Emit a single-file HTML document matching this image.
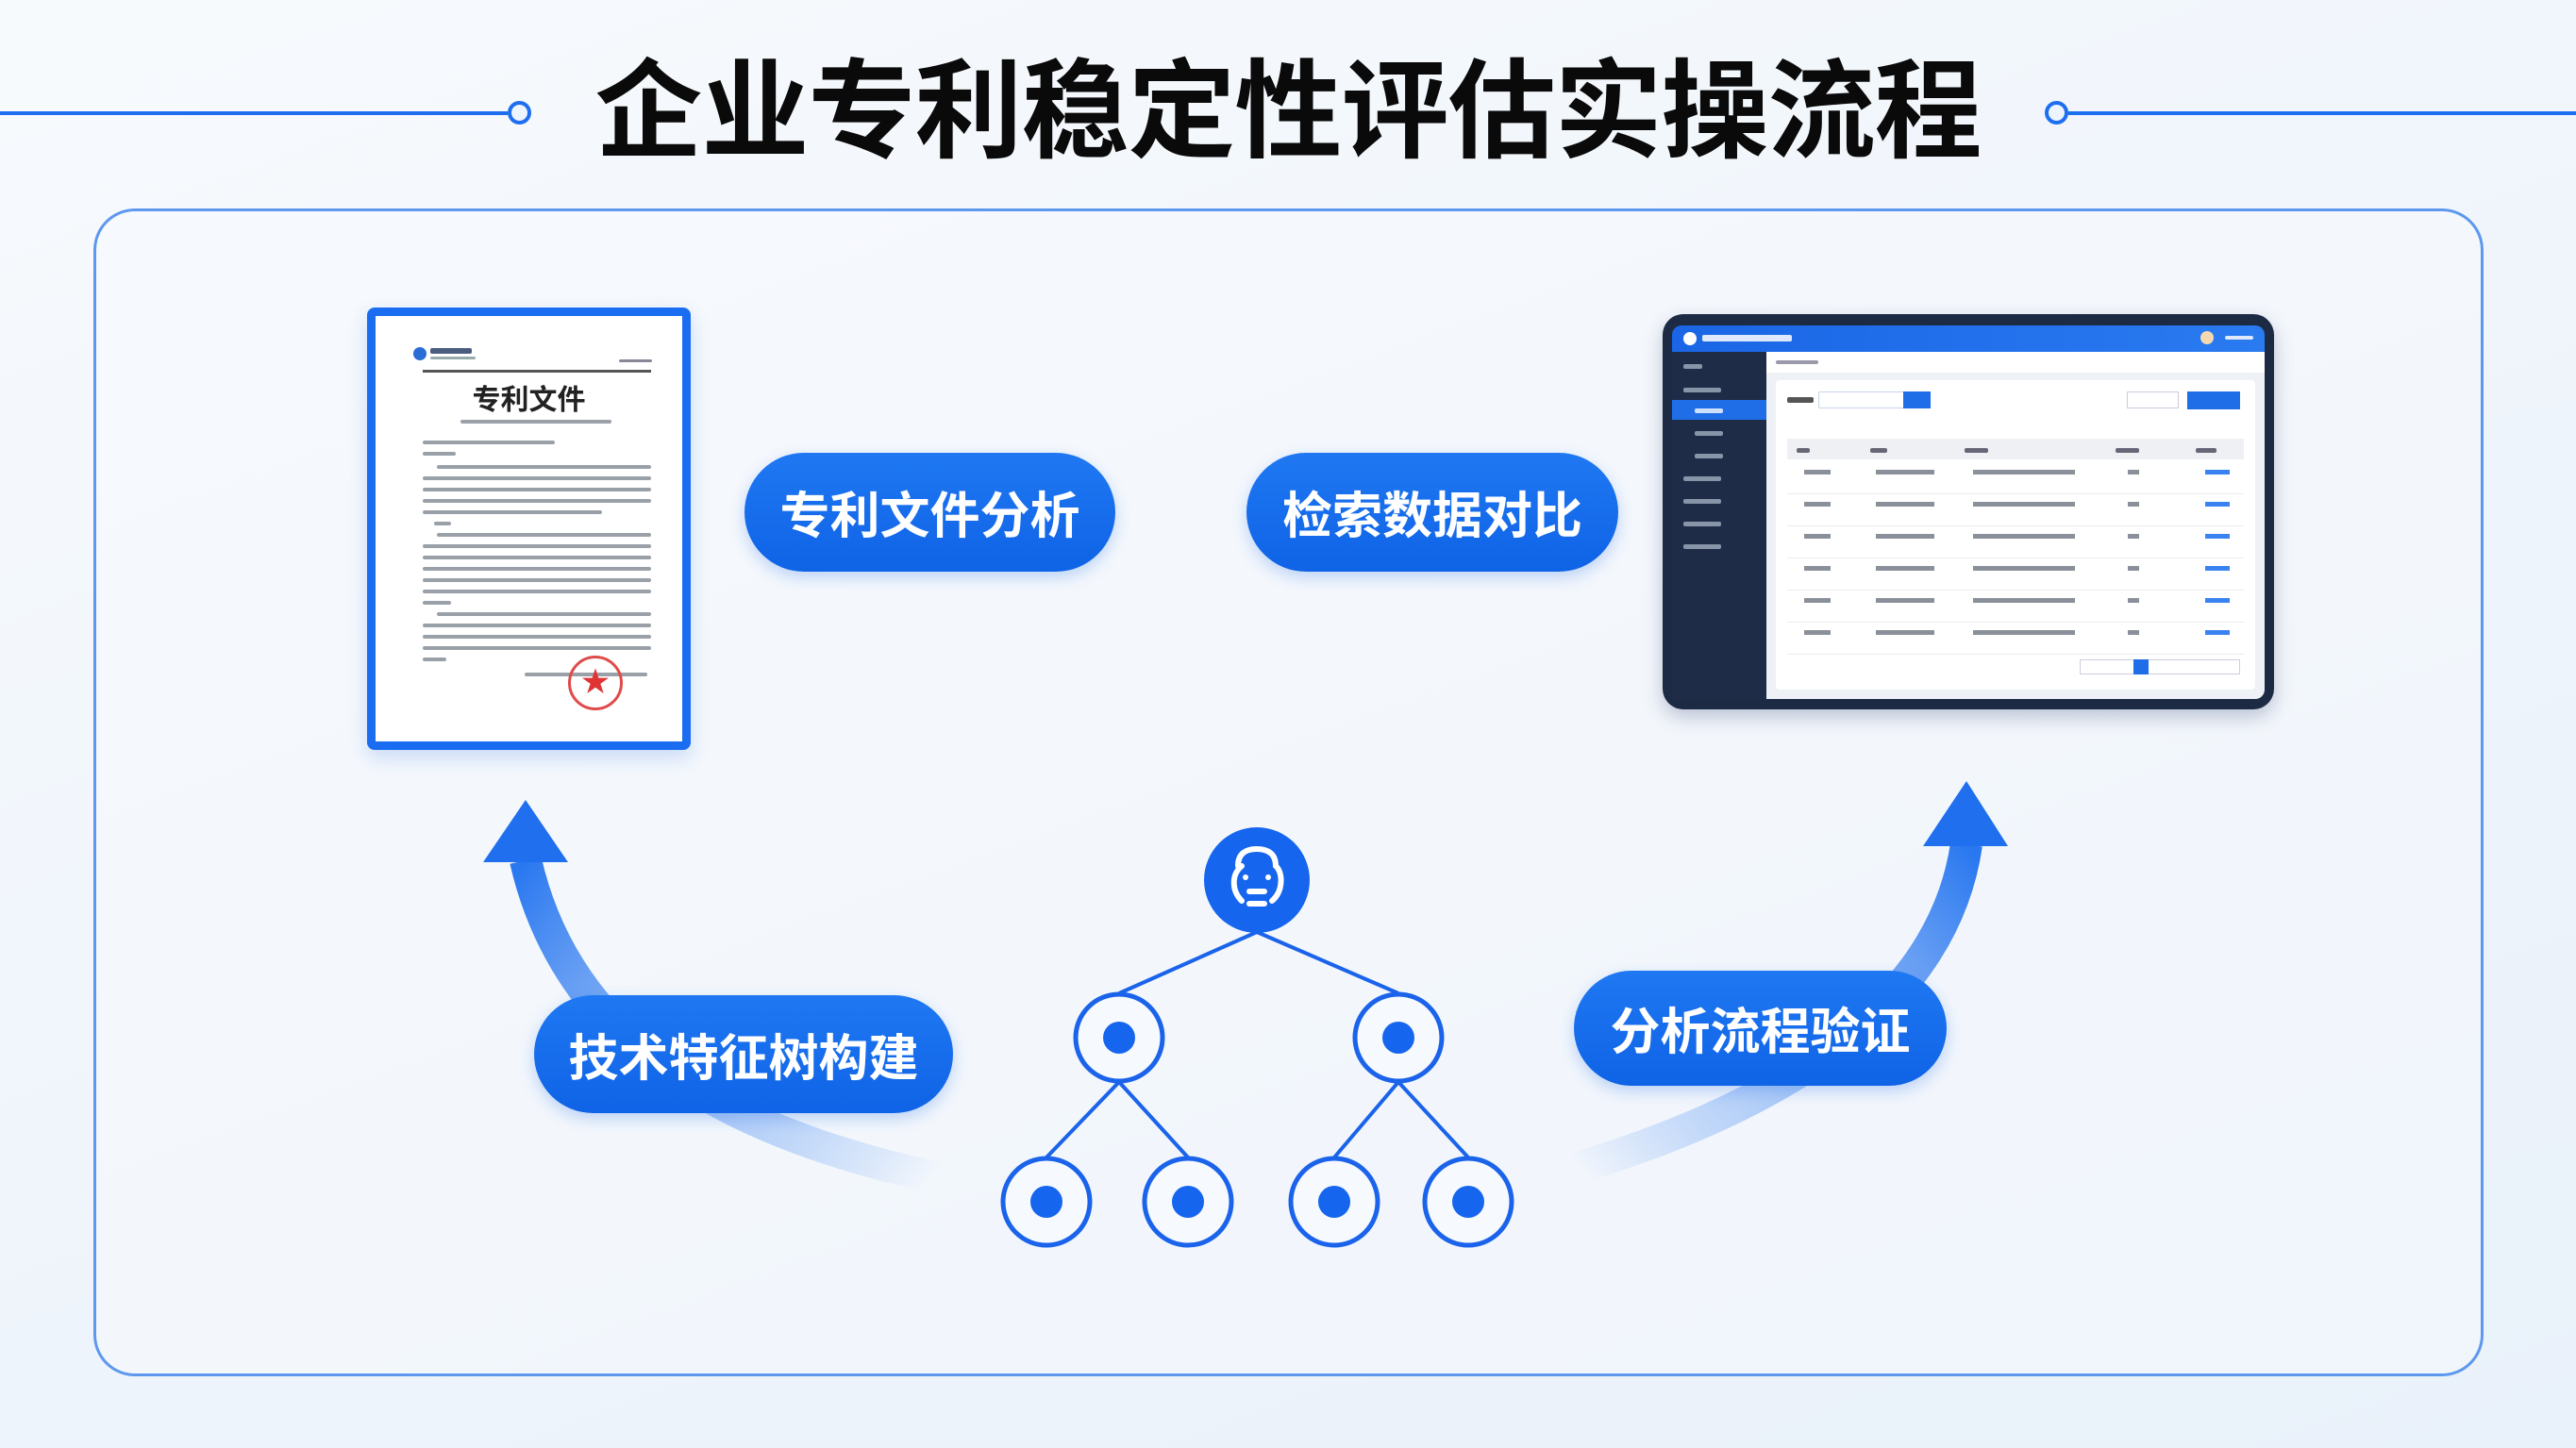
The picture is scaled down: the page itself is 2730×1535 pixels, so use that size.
<!DOCTYPE html>
<html><head><meta charset="utf-8"><style>
*{margin:0;padding:0;box-sizing:border-box}
body{width:2730px;height:1535px;overflow:hidden;position:relative;background:linear-gradient(160deg,#f7fafd 0%,#eef4fb 60%,#e9f1fa 100%);font-family:"Liberation Sans","Noto Sans CJK SC",sans-serif}
.abs{position:absolute}
.title{left:0;width:2730px;top:45px;text-align:center;font-size:114px;font-weight:bold;color:#0a0a0a;letter-spacing:-1px;line-height:150px}
.pill{position:absolute;background:linear-gradient(180deg,#1f78f2,#0f63e6);border-radius:70px;color:#fff;font-weight:bold;font-size:53px;display:flex;align-items:center;justify-content:center;box-shadow:0 6px 16px rgba(20,100,230,.25)}
.bar{position:absolute;height:5px;background:#9aa0a8;border-radius:2px}
.r{position:absolute;height:5px;background:#8a9099}
.rb{position:absolute;height:5px;background:#3a82f0}
</style></head><body>
<div class="abs" style="left:0;top:118px;width:538px;height:4px;background:#1e6ff0"></div>
<div class="abs" style="left:538px;top:107px;width:25px;height:25px;border:4px solid #1e6ff0;border-radius:50%;background:#eef4fd"></div>
<div class="abs" style="left:2167px;top:107px;width:25px;height:25px;border:4px solid #1e6ff0;border-radius:50%;background:#eef4fd"></div>
<div class="abs" style="left:2192px;top:118px;width:538px;height:4px;background:#1e6ff0"></div>
<div class="abs title">企业专利稳定性评估实操流程</div>

<div class="abs" style="left:99px;top:221px;width:2533px;height:1238px;border:3px solid #5d98ee;border-radius:44px;background:rgba(247,250,254,.5)"></div>

<svg class="abs" style="left:0;top:0" width="2730" height="1535">
<defs>
<linearGradient id="g1" x1="990" y1="1245" x2="557" y2="914" gradientUnits="userSpaceOnUse"><stop offset="0" stop-color="#2f7cf0" stop-opacity="0"/><stop offset=".5" stop-color="#6fa4f3" stop-opacity=".6"/><stop offset="1" stop-color="#2a78f0"/></linearGradient>
<linearGradient id="g2" x1="1671" y1="1236" x2="2084" y2="897" gradientUnits="userSpaceOnUse"><stop offset="0" stop-color="#2f7cf0" stop-opacity="0"/><stop offset=".5" stop-color="#6fa4f3" stop-opacity=".6"/><stop offset="1" stop-color="#2a78f0"/></linearGradient>
</defs>
<path d="M1000 1250 C760 1200 600 1100 557 912" stroke="url(#g1)" stroke-width="34" fill="none"/>
<polygon points="557,848 512,914 602,914" fill="#1f6fee"/>
<path d="M1665 1240 C1900 1170 2060 1060 2084 895" stroke="url(#g2)" stroke-width="34" fill="none"/>
<polygon points="2084,828 2038,897 2128,897" fill="#1f6fee"/>
<g stroke="#1a63ea" stroke-width="4" fill="none">
<line x1="1332" y1="988" x2="1186" y2="1053"/><line x1="1332" y1="988" x2="1482" y2="1053"/>
<line x1="1186" y1="1147" x2="1109" y2="1227"/><line x1="1186" y1="1147" x2="1259" y2="1227"/>
<line x1="1482" y1="1147" x2="1414" y2="1227"/><line x1="1482" y1="1147" x2="1556" y2="1227"/>
</g>
<g stroke="#1a63ea" stroke-width="5" fill="#f6f9fe">
<circle cx="1186" cy="1100" r="46"/><circle cx="1482" cy="1100" r="46"/>
<circle cx="1109" cy="1274" r="46"/><circle cx="1259" cy="1274" r="46"/><circle cx="1414" cy="1274" r="46"/><circle cx="1556" cy="1274" r="46"/>
</g>
<g fill="#1565ee">
<circle cx="1186" cy="1100" r="17"/><circle cx="1482" cy="1100" r="17"/>
<circle cx="1109" cy="1274" r="17"/><circle cx="1259" cy="1274" r="17"/><circle cx="1414" cy="1274" r="17"/><circle cx="1556" cy="1274" r="17"/>
<circle cx="1332" cy="933" r="56"/>
</g>
<g stroke="#fff" stroke-width="6" fill="none" stroke-linecap="round">
<path d="M1312 918 C1312 905 1320 900 1332 900 C1345 900 1352 906 1352 918 C1360 925 1360 945 1348 955 M1316 918 C1304 928 1306 945 1316 955"/>
<line x1="1324" y1="945" x2="1340" y2="945"/><line x1="1324" y1="958" x2="1340" y2="958"/>
</g>
<circle cx="1320" cy="930" r="3" fill="#fff"/><circle cx="1344" cy="930" r="3" fill="#fff"/>
</svg>

<!-- document -->
<div class="abs" style="left:389px;top:326px;width:343px;height:469px;background:#fff;border:9px solid #1a6df0;border-radius:8px;box-shadow:0 8px 20px rgba(30,100,220,.2)">
 <div class="abs" style="left:40px;top:33px;width:14px;height:14px;border-radius:50%;background:#2a6dd6"></div>
 <div class="bar" style="left:58px;top:34px;width:44px;height:6px;background:#4a5c80"></div>
 <div class="bar" style="left:58px;top:43px;width:48px;height:3px;background:#9aa"></div>
 <div class="bar" style="left:258px;top:46px;width:35px;height:3px;background:#889"></div>
 <div class="abs" style="left:50px;top:57px;width:242px;height:3px;background:#555"></div>
 <div class="abs" style="left:0;width:325px;top:64px;text-align:center;font-size:30px;font-weight:bold;color:#222">专利文件</div>
 <div class="bar" style="left:90px;top:110px;width:160px;height:4px"></div>
 <div class="bar" style="left:50px;top:132px;width:140px;height:4px"></div>
 <div class="bar" style="left:50px;top:144px;width:35px;height:4px"></div>
 <div class="bar" style="left:65px;top:158px;width:227px;height:4px"></div>
 <div class="bar" style="left:50px;top:170px;width:242px;height:4px"></div>
 <div class="bar" style="left:50px;top:182px;width:242px;height:4px"></div>
 <div class="bar" style="left:50px;top:194px;width:242px;height:4px"></div>
 <div class="bar" style="left:50px;top:206px;width:190px;height:4px"></div>
 <div class="bar" style="left:62px;top:218px;width:18px;height:4px"></div>
 <div class="bar" style="left:65px;top:230px;width:227px;height:4px"></div>
 <div class="bar" style="left:50px;top:242px;width:242px;height:4px"></div>
 <div class="bar" style="left:50px;top:254px;width:242px;height:4px"></div>
 <div class="bar" style="left:50px;top:266px;width:242px;height:4px"></div>
 <div class="bar" style="left:50px;top:278px;width:242px;height:4px"></div>
 <div class="bar" style="left:50px;top:290px;width:242px;height:4px"></div>
 <div class="bar" style="left:50px;top:302px;width:30px;height:4px"></div>
 <div class="bar" style="left:65px;top:314px;width:227px;height:4px"></div>
 <div class="bar" style="left:50px;top:326px;width:242px;height:4px"></div>
 <div class="bar" style="left:50px;top:338px;width:242px;height:4px"></div>
 <div class="bar" style="left:50px;top:350px;width:242px;height:4px"></div>
 <div class="bar" style="left:50px;top:362px;width:25px;height:4px"></div>
 <div class="bar" style="left:158px;top:378px;width:130px;height:4px"></div>
 <div class="abs" style="left:204px;top:360px;width:58px;height:58px;border:3px solid #e04a4a;border-radius:50%;color:#e03434;font-size:30px;text-align:center;line-height:52px">★</div>
</div>

<!-- screen -->
<div class="abs" style="left:1762px;top:333px;width:648px;height:419px;background:#1d2a44;border-radius:22px;box-shadow:0 8px 20px rgba(20,40,90,.25)">
 <div class="abs" style="left:10px;top:12px;width:628px;height:28px;background:linear-gradient(90deg,#1a66e6,#2a7af0);border-radius:10px 10px 0 0"></div>
 <div class="abs" style="left:22px;top:19px;width:14px;height:14px;border-radius:50%;background:#fff"></div>
 <div class="bar" style="left:42px;top:22px;width:95px;height:7px;background:#dfe9fb"></div>
 <div class="abs" style="left:570px;top:18px;width:14px;height:14px;border-radius:50%;background:#f4d9b0"></div>
 <div class="bar" style="left:596px;top:23px;width:30px;height:4px;background:#dfe9fb"></div>
 <div class="abs" style="left:10px;top:40px;width:100px;height:368px;background:#1f2c47"></div>
 <div class="abs" style="left:10px;top:91px;width:100px;height:21px;background:#1f6ee8"></div>
 <div class="bar" style="left:22px;top:53px;width:20px;height:5px;background:#8894a8"></div>
 <div class="bar" style="left:22px;top:78px;width:40px;height:5px;background:#8894a8"></div>
 <div class="bar" style="left:34px;top:100px;width:30px;height:5px;background:#cfe0fb"></div>
 <div class="bar" style="left:34px;top:124px;width:30px;height:5px;background:#8894a8"></div>
 <div class="bar" style="left:34px;top:148px;width:30px;height:5px;background:#8894a8"></div>
 <div class="bar" style="left:22px;top:172px;width:40px;height:5px;background:#8894a8"></div>
 <div class="bar" style="left:22px;top:196px;width:40px;height:5px;background:#8894a8"></div>
 <div class="bar" style="left:22px;top:220px;width:40px;height:5px;background:#8894a8"></div>
 <div class="bar" style="left:22px;top:244px;width:40px;height:5px;background:#8894a8"></div>
 <div class="abs" style="left:110px;top:40px;width:528px;height:368px;background:#eef1f5;border-radius:0 0 10px 0">
  <div class="abs" style="left:0;top:0;width:528px;height:22px;background:#fff"></div>
  <div class="bar" style="left:10px;top:9px;width:45px;height:4px;background:#99a"></div>
  <div class="abs" style="left:10px;top:30px;width:508px;height:328px;background:#fff;border-radius:4px">
   <div class="bar" style="left:12px;top:18px;width:28px;height:6px;background:#555"></div>
   <div class="abs" style="left:45px;top:12px;width:105px;height:18px;border:1px solid #c8d4e8;border-radius:2px"></div>
   <div class="abs" style="left:135px;top:12px;width:29px;height:18px;background:#1f6ee8"></div>
   <div class="abs" style="left:372px;top:12px;width:55px;height:18px;border:1px solid #ccd"></div>
   <div class="abs" style="left:436px;top:12px;width:56px;height:19px;background:#1f6ee8"></div>
   <div class="abs" style="left:12px;top:62px;width:484px;height:22px;background:#eef0f3"></div>
   <div class="bar" style="left:22px;top:72px;width:14px;height:5px;background:#667"></div>
   <div class="bar" style="left:100px;top:72px;width:18px;height:5px;background:#667"></div>
   <div class="bar" style="left:200px;top:72px;width:25px;height:5px;background:#667"></div>
   <div class="bar" style="left:360px;top:72px;width:25px;height:5px;background:#667"></div>
   <div class="bar" style="left:445px;top:72px;width:22px;height:5px;background:#667"></div>
   <div class="abs" style="left:12px;top:120px;width:484px;height:1px;background:#e8ebef"></div>
   <div class="abs" style="left:12px;top:154px;width:484px;height:1px;background:#e8ebef"></div>
   <div class="abs" style="left:12px;top:188px;width:484px;height:1px;background:#e8ebef"></div>
   <div class="abs" style="left:12px;top:222px;width:484px;height:1px;background:#e8ebef"></div>
   <div class="abs" style="left:12px;top:256px;width:484px;height:1px;background:#e8ebef"></div>
   <div class="abs" style="left:12px;top:290px;width:484px;height:1px;background:#e8ebef"></div>
  </div>
 </div>
</div>
<!-- screen rows -->
<div class="r" style="left:1912px;top:498px;width:28px"></div><div class="r" style="left:1988px;top:498px;width:62px"></div><div class="r" style="left:2091px;top:498px;width:108px"></div><div class="r" style="left:2255px;top:498px;width:12px"></div><div class="rb" style="left:2337px;top:498px;width:26px"></div>
<div class="r" style="left:1912px;top:532px;width:28px"></div><div class="r" style="left:1988px;top:532px;width:62px"></div><div class="r" style="left:2091px;top:532px;width:108px"></div><div class="r" style="left:2255px;top:532px;width:12px"></div><div class="rb" style="left:2337px;top:532px;width:26px"></div>
<div class="r" style="left:1912px;top:566px;width:28px"></div><div class="r" style="left:1988px;top:566px;width:62px"></div><div class="r" style="left:2091px;top:566px;width:108px"></div><div class="r" style="left:2255px;top:566px;width:12px"></div><div class="rb" style="left:2337px;top:566px;width:26px"></div>
<div class="r" style="left:1912px;top:600px;width:28px"></div><div class="r" style="left:1988px;top:600px;width:62px"></div><div class="r" style="left:2091px;top:600px;width:108px"></div><div class="r" style="left:2255px;top:600px;width:12px"></div><div class="rb" style="left:2337px;top:600px;width:26px"></div>
<div class="r" style="left:1912px;top:634px;width:28px"></div><div class="r" style="left:1988px;top:634px;width:62px"></div><div class="r" style="left:2091px;top:634px;width:108px"></div><div class="r" style="left:2255px;top:634px;width:12px"></div><div class="rb" style="left:2337px;top:634px;width:26px"></div>
<div class="r" style="left:1912px;top:668px;width:28px"></div><div class="r" style="left:1988px;top:668px;width:62px"></div><div class="r" style="left:2091px;top:668px;width:108px"></div><div class="r" style="left:2255px;top:668px;width:12px"></div><div class="rb" style="left:2337px;top:668px;width:26px"></div>
<div class="abs" style="left:2204px;top:699px;width:170px;height:16px;border:1px solid #ccd;background:#fff"></div>
<div class="abs" style="left:2261px;top:699px;width:16px;height:16px;background:#1f6ee8"></div>

<div class="pill" style="left:789px;top:480px;width:393px;height:126px">专利文件分析</div>
<div class="pill" style="left:1321px;top:480px;width:394px;height:126px">检索数据对比</div>
<div class="pill" style="left:566px;top:1055px;width:444px;height:125px">技术特征树构建</div>
<div class="pill" style="left:1668px;top:1029px;width:395px;height:122px">分析流程验证</div>
</body></html>
